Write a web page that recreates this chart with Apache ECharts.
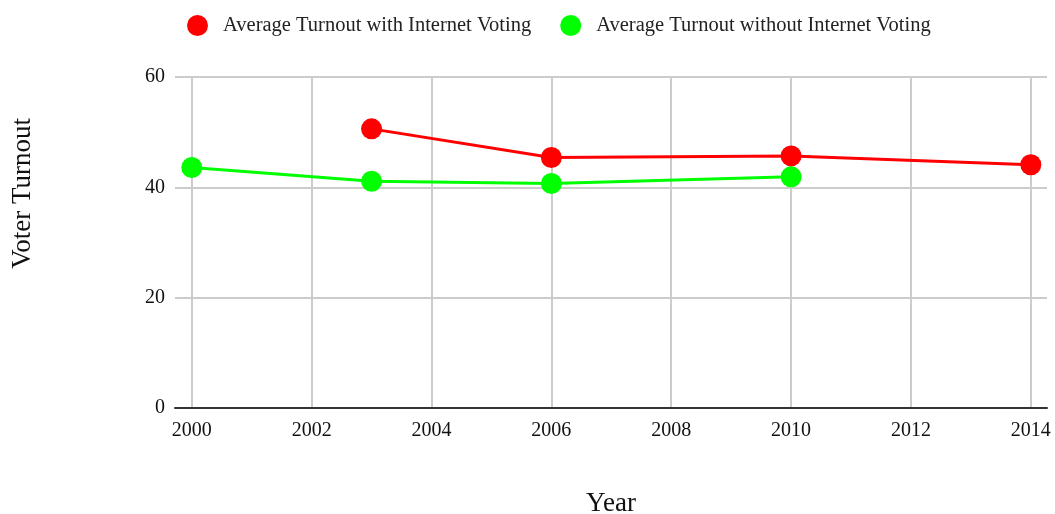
<!DOCTYPE html>
<html>
<head>
<meta charset="utf-8">
<script src="https://cdn.jsdelivr.net/npm/echarts@6/dist/echarts.min.js"></script>
<style>
  html, body { margin: 0; padding: 0; background: #fff; }
  #chart { width: 1055px; height: 514px; }
</style>
</head>
<body>
<div id="chart"></div>
<script>
var years = [2000, 2002, 2004, 2006, 2008, 2010, 2012, 2014];
var withInternet = [[2003, 50.6], [2006, 45.4], [2010, 45.7], [2014, 44.1]];
var withoutInternet = [[2000, 43.6], [2003, 41.1], [2006, 40.7], [2010, 41.9]];
var yTicks = [0, 20, 40, 60];

var font = '"Liberation Serif", "DejaVu Serif", serif';

var chart = echarts.init(document.getElementById('chart'));
chart.setOption({
    color: ['#ff0000', '#00ff00'],
    textStyle: { fontFamily: font },
    legend: {
        top: 10,
        left: 182,
        itemWidth: 21,
        itemHeight: 21,
        itemGap: 29,
        icon: 'circle',
        textStyle: { fontFamily: font, fontSize: 20.5, color: '#222', padding: [0, 0, 0, 10] },
        data: ['Average Turnout with Internet Voting', 'Average Turnout without Internet Voting']
    },
    grid: {
        left: 175,
        right: 8,
        top: 77,
        bottom: 106,
        outerBoundsMode: 'none',
        containLabel: false
    },
    xAxis: {
        type: 'value',
        min: 1999.72,
        max: 2014.27,
        name: 'Year',
        nameLocation: 'middle',
        nameGap: 82,
        nameTextStyle: { fontFamily: font, fontSize: 27, color: '#111' },
        axisLine: { lineStyle: { color: '#333', width: 2 } },
        axisTick: { show: false, customValues: years },
        axisLabel: {
            customValues: years,
            fontFamily: font,
            fontSize: 20,
            color: '#111',
            margin: 13,
            formatter: function (v) { return String(v); }
        },
        splitLine: { show: true, lineStyle: { color: '#cccccc', width: 2 } }
    },
    yAxis: {
        type: 'value',
        min: 0,
        max: 60,
        interval: 20,
        axisLine: { show: false },
        axisTick: { show: false },
        axisLabel: {
            fontFamily: font,
            fontSize: 20,
            color: '#111',
            margin: 10
        },
        splitLine: { show: true, lineStyle: { color: '#cccccc', width: 2 } }
    },
    graphic: [{
        type: 'text',
        left: 9,
        top: 118,
        rotation: Math.PI / 2,
        style: {
            text: 'Voter Turnout',
            font: '27px ' + font,
            fill: '#111'
        }
    }],
    series: [
        {
            name: 'Average Turnout with Internet Voting',
            type: 'line',
            data: withInternet,
            symbol: 'circle',
            symbolSize: 21,
            lineStyle: { width: 3 },
            itemStyle: { color: '#ff0000' }
        },
        {
            name: 'Average Turnout without Internet Voting',
            type: 'line',
            data: withoutInternet,
            symbol: 'circle',
            symbolSize: 21,
            lineStyle: { width: 3 },
            itemStyle: { color: '#00ff00' }
        }
    ]
});
</script>
</body>
</html>
